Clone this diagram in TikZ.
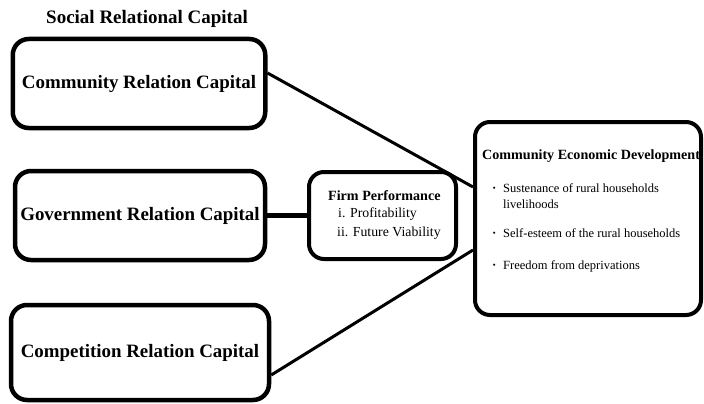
\documentclass[tikz,border=0pt]{standalone}
\usepackage{fontspec}
\setmainfont{Liberation Serif}
\begin{document}
\begin{tikzpicture}[x=1pt,y=-1pt,
  capbox/.style={draw, line width=4.5pt, rounded corners=16pt, inner sep=0pt,
    font=\fontsize{18.9}{22}\selectfont\bfseries},
  infobox/.style={draw, line width=4pt, rounded corners=15pt, inner sep=0pt},
  link/.style={line width=3pt},
  thicklink/.style={line width=5.5pt},
  itemtext/.style={anchor=base west, inner sep=0pt, font=\fontsize{12.5}{15}\selectfont},
  bulletdot/.style={anchor=base west, inner sep=0pt, font=\fontsize{13}{15}\selectfont\bfseries},
  headtext/.style={anchor=base west, inner sep=0pt, font=\fontsize{14.1}{17}\selectfont\bfseries},
  subtext/.style={anchor=base west, inner sep=0pt, font=\fontsize{13.8}{17}\selectfont}]
\useasboundingbox (0,0) rectangle (704,404);

% group heading
\node[anchor=base, inner sep=0pt, font=\fontsize{19}{22}\selectfont\bfseries]
  (head) at (147,24) {Social Relational Capital};

% the three relational capital boxes
\node[capbox, minimum width=252.5pt, minimum height=89pt] (b1) at (139,83.5) {Community Relation Capital};
\node[capbox, minimum width=250pt, minimum height=89pt] (b2) at (140,215.5) {Government Relation Capital};
\node[capbox, minimum width=258pt, minimum height=95pt] (b3) at (140,352.5) {Competition Relation Capital};

% firm performance box
\node[infobox, minimum width=147pt, minimum height=87pt] (firm) at (382.5,215.5) {};
\node[headtext] (firmhead) at (328,200) {Firm Performance};
\node[subtext] (firm1) at (338,217) {i. Profitability};
\node[subtext] (firm2) at (337,236) {ii. Future Viability};

% community economic development box
\node[infobox, minimum width=226pt, minimum height=193pt] (ced) at (588,218.5) {};
\node[headtext] (cedhead) at (482,159) {Community Economic Development};
\node[bulletdot] (dot1) at (492,192) {·};
\node[itemtext] (ced1) at (503,192) {Sustenance of rural households};
\node[itemtext] (ced1b) at (503,208) {livelihoods};
\node[bulletdot] (dot2) at (492,237) {·};
\node[itemtext] (ced2) at (503,237) {Self-esteem of the rural households};
\node[bulletdot] (dot3) at (492,269) {·};
\node[itemtext] (ced3) at (503,269) {Freedom from deprivations};

% connectors
\draw[link] ([yshift=10.5pt]b1.east) -- ([yshift=31.5pt]ced.west);
\draw[link] ([yshift=-22.5pt]b3.east) -- ([yshift=-31.5pt]ced.west);
\draw[thicklink] (b2.east) -- (firm.west);
\end{tikzpicture}
\end{document}
